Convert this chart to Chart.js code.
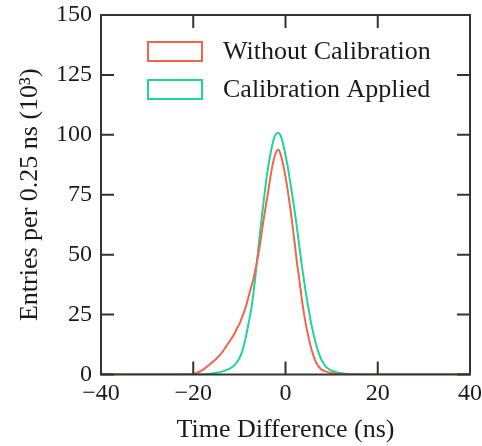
<!DOCTYPE html>
<html>
<head>
<meta charset="utf-8">
<script src="https://cdn.jsdelivr.net/npm/chart.js@4.4.1/dist/chart.umd.min.js"></script>
<style>
	html, body { margin: 0; padding: 0; background: #fff; }
	#wrap { width: 482px; height: 446px; }
</style>
</head>
<body>
<div id="wrap"><canvas id="histChart"></canvas></div>
<script>
// DATA
const timeNs = [
	-40, -30, -24, -22, -21,
	-20, -19, -18, -17, -16, -15, -14, -13, -12, -11,
	-10.5, -10, -9.5, -9, -8.5, -8, -7.5, -7, -6.5, -6, -5.5, -5, -4.5, -4, -3.5, -3, -2.5, -2, -1.5, -1,
	-0.5, 0, 0.5, 1, 1.5, 2, 2.5, 3, 3.5, 4, 4.5, 5, 5.5, 6, 6.5, 7, 7.5, 8, 8.5,
	9, 10, 11, 12, 13, 14, 15, 16, 18, 20, 30, 40
];
const withoutCalibration = [
	0, 0, 0, 0, 0.05,
	0.2, 0.9, 1.8, 3.3, 4.9, 6.6, 8.6, 11.3, 14.2, 17.2,
	19.4, 21, 23.5, 26, 29, 32.5, 36, 39.5, 44, 49, 54.7, 61.5, 67.5, 73.5, 79.5, 85.5, 90, 93, 93.8, 91.5,
	87.5, 82.5, 76.5, 70, 62.5, 54.5, 46.5, 39.5, 32, 25.5, 20, 15.5, 11.5, 8.2, 5.6, 3.8, 2.6, 1.8, 1.4,
	1.1, 0.6, 0.3, 0.2, 0.1, 0.05, 0, 0, 0, 0, 0, 0
];
const calibrationApplied = [
	0, 0, 0, 0, 0,
	0, 0, 0.1, 0.2, 0.4, 0.7, 1.1, 1.7, 2.6, 4.0,
	5.2, 6.8, 9.0, 12.3, 16.5, 21.5, 26.5, 33, 41.5, 50.5, 59.5, 68, 76, 83.5, 89.5, 94.5, 98.5, 100.5, 100.8, 99.5,
	96, 91.5, 86.5, 80.5, 74.5, 68, 61, 53.5, 46, 39.5, 33, 27.5, 22, 17.5, 13.5, 10.2, 7.5, 5.4, 3.9,
	2.8, 1.6, 1.0, 0.6, 0.3, 0.2, 0.1, 0.05, 0, 0, 0, 0
];
const seriesLabels = ["Without Calibration", "Calibration Applied"];
const seriesColors = ["#f2654d", "#1fd49c"];
const xTickValues = [-40, -20, 0, 20, 40];
const yTickValues = [0, 25, 50, 75, 100, 125, 150];

const FONT = "'Liberation Serif', 'DejaVu Serif', serif";
const TEXT = "#1a1a1a";

// frame box + inward ticks on all four sides
const frameTicks = {
	id: "frameTicks",
	afterDatasetsDraw(chart) {
		const {ctx, chartArea: a, scales: {x, y}} = chart;
		const len = 13;
		ctx.save();
		ctx.strokeStyle = "#333";
		ctx.lineWidth = 2;
		ctx.beginPath();
		x.ticks.forEach(t => {
			const px = x.getPixelForValue(t.value);
			ctx.moveTo(px, a.bottom); ctx.lineTo(px, a.bottom - len);
			ctx.moveTo(px, a.top); ctx.lineTo(px, a.top + len);
		});
		y.ticks.forEach(t => {
			const py = y.getPixelForValue(t.value);
			ctx.moveTo(a.left, py); ctx.lineTo(a.left + len, py);
			ctx.moveTo(a.right, py); ctx.lineTo(a.right - len, py);
		});
		ctx.stroke();
		ctx.strokeRect(a.left, a.top, a.right - a.left, a.bottom - a.top);
		ctx.restore();
	}
};

// legend with outlined boxes inside the plot
const boxLegend = {
	id: "boxLegend",
	afterDraw(chart) {
		const {ctx, chartArea: a} = chart;
		ctx.save();
		ctx.font = "26px " + FONT;
		ctx.textBaseline = "middle";
		ctx.textAlign = "left";
		chart.data.datasets.forEach((ds, i) => {
			const bx = a.left + 47;
			const by = a.top + 27 + i * 38;
			ctx.strokeStyle = ds.borderColor;
			ctx.lineWidth = 2;
			ctx.strokeRect(bx, by, 54, 19);
			ctx.fillStyle = TEXT;
			ctx.fillText(ds.label, a.left + 122, by + 10);
		});
		ctx.restore();
	}
};

const makeSeries = vals => timeNs.map((t, i) => ({x: t, y: vals[i]}));

const ctx = document.getElementById("histChart");
new Chart(ctx, {
	type: "line",
	data: {
		datasets: [
			{label: seriesLabels[0], data: makeSeries(withoutCalibration), borderColor: seriesColors[0]},
			{label: seriesLabels[1], data: makeSeries(calibrationApplied), borderColor: seriesColors[1]}
		]
	},
	options: {
		responsive: true,
		maintainAspectRatio: false,
		animation: false,
		layout: {padding: {left: 0, right: 12, top: 15, bottom: 0}},
		elements: {
			line: {borderWidth: 2, cubicInterpolationMode: "monotone", fill: false},
			point: {radius: 0}
		},
		plugins: {
			legend: {display: false},
			tooltip: {enabled: false}
		},
		scales: {
			x: {
				type: "linear",
				min: -40,
				max: 40,
				afterBuildTicks: s => { s.ticks = xTickValues.map(v => ({value: v})); },
				afterFit: s => { s.height = 71.5; s.paddingLeft = 0; s.paddingRight = 0; },
				grid: {display: false, drawTicks: false},
				border: {display: false},
				ticks: {
					padding: 5,
					color: TEXT,
					font: {family: FONT, size: 24},
					maxRotation: 0,
					callback: v => String(v).replace("-", "\u2212")
				},
				title: {
					display: true,
					text: "Time Difference (ns)",
					color: TEXT,
					font: {family: FONT, size: 26, lineHeight: 1.2},
					padding: {top: 0, bottom: 0}
				}
			},
			y: {
				min: 0,
				max: 150,
				afterBuildTicks: s => { s.ticks = yTickValues.map(v => ({value: v})); },
				afterFit: s => { s.width = 101; s.paddingTop = 0; s.paddingBottom = 0; },
				grid: {display: false, drawTicks: false},
				border: {display: false},
				ticks: {
					padding: 9,
					color: TEXT,
					font: {family: FONT, size: 24}
				},
				title: {
					display: true,
					text: "Entries per 0.25 ns (10\u00b3)",
					color: TEXT,
					font: {family: FONT, size: 26, lineHeight: 1.2},
					padding: {top: 15, bottom: 0}
				}
			}
		}
	},
	plugins: [frameTicks, boxLegend]
});
</script>
</body>
</html>
